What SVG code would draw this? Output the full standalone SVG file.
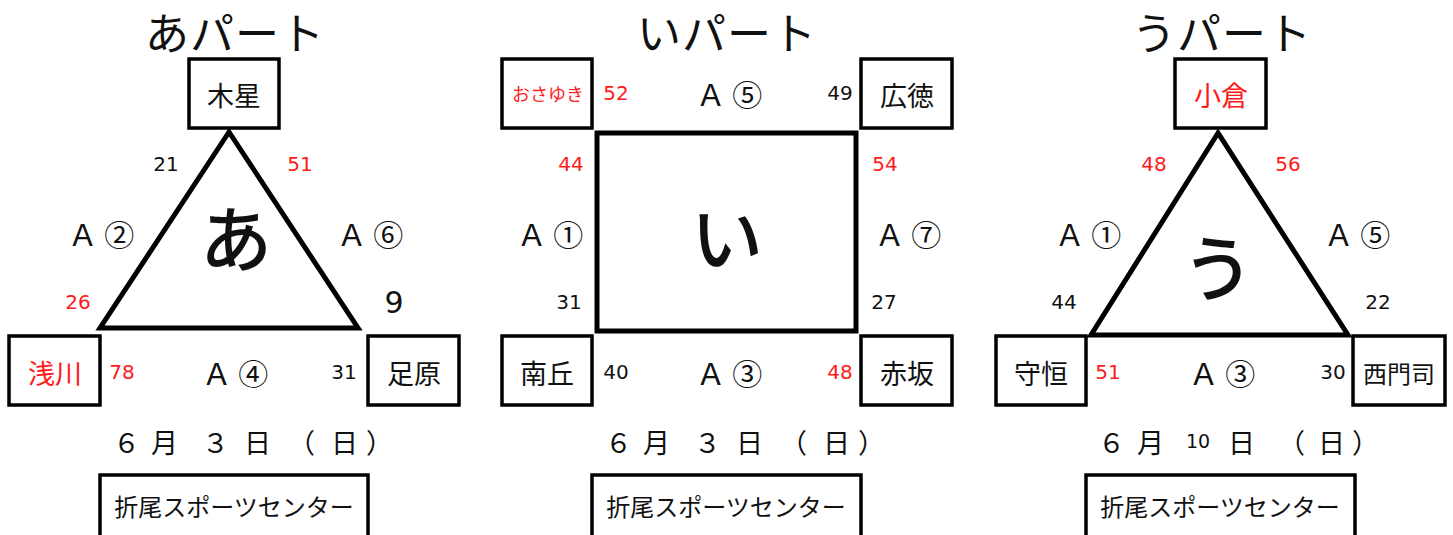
<svg xmlns="http://www.w3.org/2000/svg" width="1453" height="535" viewBox="0 0 1453 535">
<style>
text{font-family:"Noto Sans CJK JP","Noto Sans",sans-serif;fill:#111;dominant-baseline:central;text-anchor:middle}
.r{fill:#ff1a1a}
.box{fill:#fff;stroke:#000;stroke-width:3.5}
.edge{fill:none;stroke:#000;stroke-width:5;stroke-linejoin:miter}
.t{font-size:44px;letter-spacing:1px}
.n{font-size:27px}
.s{font-size:20px;font-family:"DejaVu Sans",sans-serif}
.a{font-size:30px}
.big{font-size:72px;font-weight:500}
.d{font-size:27px;text-anchor:start}
.v{font-size:24px}
</style>
<rect width="1453" height="535" fill="#fff"/>

<g id="connectors">
<polygon class="edge" points="229,132 100,328 358,328"/>
<rect class="edge" x="597" y="133" width="259" height="198" stroke-width="4.5"/>
<polygon class="edge" points="1218,133 1091,335 1348,335"/>
</g>

<g id="part-a">
<text class="t" x="235" y="31">あパート</text>
<text class="big" x="236" y="234">あ</text>
<g id="a-mokusei"><rect class="box" x="189" y="59" width="90" height="69"/><text class="n" x="234" y="94">木星</text></g>
<g id="a-asakawa"><rect class="box" x="9" y="336" width="91" height="69"/><text class="n r" x="55" y="372">浅川</text></g>
<g id="a-ashihara"><rect class="box" x="368" y="336" width="91" height="69"/><text class="n" x="414" y="372">足原</text></g>
<text class="s" x="166" y="164">21</text>
<text class="s r" x="300" y="164">51</text>
<text class="a" x="101" y="233">Ａ ②</text>
<text class="a" x="370" y="233">Ａ ⑥</text>
<text class="s r" x="78" y="302">26</text>
<text class="s" style="font-size:30px" x="394" y="302">9</text>
<text class="s r" x="122" y="372">78</text>
<text class="a" x="235" y="372">Ａ ④</text>
<text class="s" x="344" y="372">31</text>
<text class="d" y="441"><tspan x="113">６</tspan><tspan x="151">月</tspan><tspan x="202">３</tspan><tspan x="244">日</tspan><tspan x="288">（</tspan><tspan x="331">日</tspan><tspan x="366">）</tspan></text>
<g id="a-venue"><rect class="box" x="100" y="475" width="268" height="75"/><text class="v" x="234" y="505">折尾スポーツセンター</text></g>
</g>

<g id="part-i">
<text class="t" x="727" y="31">いパート</text>
<text class="big" x="727" y="233">い</text>
<g id="i-osayuki"><rect class="box" x="502" y="59" width="90" height="69"/><text class="r" style="font-size:18px" x="548" y="93">おさゆき</text></g>
<g id="i-hirotoku"><rect class="box" x="861" y="59" width="91" height="69"/><text class="n" x="907" y="94">広徳</text></g>
<g id="i-minamioka"><rect class="box" x="502" y="336" width="90" height="69"/><text class="n" x="547" y="372">南丘</text></g>
<g id="i-akasaka"><rect class="box" x="861" y="336" width="91" height="69"/><text class="n" x="907" y="372">赤坂</text></g>
<text class="s r" x="616" y="93">52</text>
<text class="a" x="729" y="93">Ａ ⑤</text>
<text class="s" x="840" y="93">49</text>
<text class="s r" x="571" y="164">44</text>
<text class="s r" x="885" y="164">54</text>
<text class="a" x="550" y="233">Ａ ①</text>
<text class="a" x="908" y="233">Ａ ⑦</text>
<text class="s" x="569" y="302">31</text>
<text class="s" x="884" y="302">27</text>
<text class="s" x="616" y="372">40</text>
<text class="a" x="729" y="372">Ａ ③</text>
<text class="s r" x="840" y="372">48</text>
<text class="d" y="441"><tspan x="605">６</tspan><tspan x="643">月</tspan><tspan x="694">３</tspan><tspan x="736">日</tspan><tspan x="780">（</tspan><tspan x="823">日</tspan><tspan x="858">）</tspan></text>
<g id="i-venue"><rect class="box" x="592" y="475" width="269" height="75"/><text class="v" x="726" y="505">折尾スポーツセンター</text></g>
</g>

<g id="part-u">
<text class="t" x="1222" y="31">うパート</text>
<text class="big" x="1218" y="263">う</text>
<g id="u-kokura"><rect class="box" x="1175" y="59" width="91" height="69"/><text class="n r" x="1221" y="94">小倉</text></g>
<g id="u-morotsune"><rect class="box" x="996" y="336" width="90" height="69"/><text class="n" x="1041" y="372">守恒</text></g>
<g id="u-moji"><rect class="box" x="1353" y="336" width="92" height="69"/><text class="n" style="font-size:24px" x="1399" y="372">西門司</text></g>
<text class="s r" x="1154" y="164">48</text>
<text class="s r" x="1288" y="164">56</text>
<text class="a" x="1088" y="233">Ａ ①</text>
<text class="a" x="1357" y="233">Ａ ⑤</text>
<text class="s" x="1064" y="302">44</text>
<text class="s" x="1378" y="302">22</text>
<text class="s r" x="1108" y="372">51</text>
<text class="a" x="1222" y="372">Ａ ③</text>
<text class="s" x="1333" y="372">30</text>
<text class="d" y="441"><tspan x="1098">６</tspan><tspan x="1137">月</tspan><tspan x="1186" style="font-size:19px;font-family:'DejaVu Sans',sans-serif">10</tspan><tspan x="1228">日</tspan><tspan x="1278">（</tspan><tspan x="1318">日</tspan><tspan x="1352">）</tspan></text>
<g id="u-venue"><rect class="box" x="1086" y="475" width="269" height="75"/><text class="v" x="1220" y="505">折尾スポーツセンター</text></g>
</g>
</svg>
